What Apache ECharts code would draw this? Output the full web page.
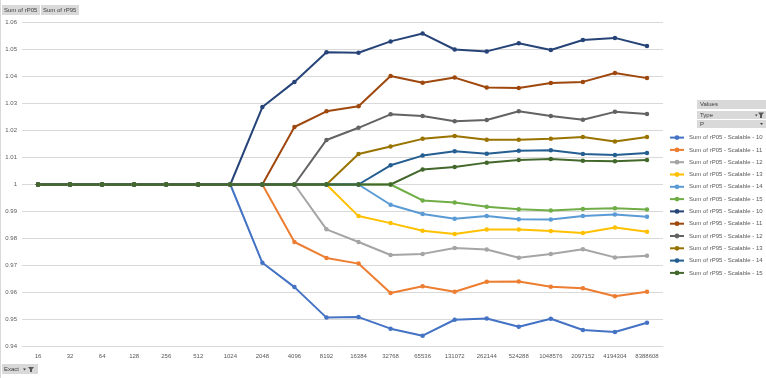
<!DOCTYPE html>
<html><head><meta charset="utf-8">
<script src="https://cdn.jsdelivr.net/npm/echarts@6/dist/echarts.min.js"></script>
<style>html,body{margin:0;padding:0;background:#fff}#c{width:766px;height:378px}</style>
</head><body><div id="c"></div>
<script>
const categories = ['16','32','64','128','256','512','1024','2048','4096','8192','16384','32768','65536','131072','262144','524288','1048576','2097152','4194304','8388608'];
const rP05_10 = [1,1,1,1,1,1,1,0.9710,0.9620,0.9507,0.9509,0.9466,0.9440,0.9499,0.9504,0.9473,0.9503,0.9461,0.9454,0.9488];
const rP05_11 = [1,1,1,1,1,1,1,1,0.9787,0.9728,0.9707,0.9598,0.9623,0.9603,0.9640,0.9641,0.9621,0.9616,0.9586,0.9603];
const rP05_12 = [1,1,1,1,1,1,1,1,1,0.9834,0.9787,0.9739,0.9743,0.9765,0.9759,0.9729,0.9743,0.9760,0.9730,0.9736];
const rP05_13 = [1,1,1,1,1,1,1,1,1,1,0.9883,0.9857,0.9829,0.9817,0.9833,0.9833,0.9828,0.9820,0.9841,0.9825];
const rP05_14 = [1,1,1,1,1,1,1,1,1,1,1,0.9925,0.9891,0.9873,0.9883,0.9871,0.9870,0.9883,0.9889,0.9881];
const rP05_15 = [1,1,1,1,1,1,1,1,1,1,1,1,0.9941,0.9933,0.9918,0.9908,0.9904,0.9909,0.9912,0.9907];
const rP95_10 = [1,1,1,1,1,1,1,1.0287,1.0380,1.0490,1.0488,1.0530,1.0559,1.0500,1.0493,1.0523,1.0498,1.0535,1.0543,1.0513];
const rP95_11 = [1,1,1,1,1,1,1,1,1.0213,1.0271,1.0290,1.0402,1.0377,1.0396,1.0359,1.0357,1.0376,1.0380,1.0413,1.0394];
const rP95_12 = [1,1,1,1,1,1,1,1,1,1.0165,1.0210,1.0260,1.0254,1.0234,1.0239,1.0271,1.0254,1.0240,1.0269,1.0261];
const rP95_13 = [1,1,1,1,1,1,1,1,1,1,1.0113,1.0141,1.0169,1.0180,1.0166,1.0166,1.0169,1.0176,1.0159,1.0176];
const rP95_14 = [1,1,1,1,1,1,1,1,1,1,1,1.0071,1.0107,1.0123,1.0114,1.0125,1.0127,1.0113,1.0109,1.0117];
const rP95_15 = [1,1,1,1,1,1,1,1,1,1,1,1,1.0056,1.0065,1.0081,1.0091,1.0094,1.0088,1.0086,1.0091];

const seriesNames = ['Sum of rP05 - Scalable - 10','Sum of rP05 - Scalable - 11','Sum of rP05 - Scalable - 12','Sum of rP05 - Scalable - 13','Sum of rP05 - Scalable - 14','Sum of rP05 - Scalable - 15','Sum of rP95 - Scalable - 10','Sum of rP95 - Scalable - 11','Sum of rP95 - Scalable - 12','Sum of rP95 - Scalable - 13','Sum of rP95 - Scalable - 14','Sum of rP95 - Scalable - 15'];
const seriesData = [rP05_10,rP05_11,rP05_12,rP05_13,rP05_14,rP05_15,rP95_10,rP95_11,rP95_12,rP95_13,rP95_14,rP95_15];
const colors = ['#4472C4','#ED7D31','#A5A5A5','#FFC000','#5B9BD5','#70AD47','#264478','#9E480E','#636363','#997300','#255E91','#43682B'];

const FONT = 'Liberation Sans';
const TXT = '#595959';

const chart = echarts.init(document.getElementById('c'));
chart.setOption({
  animation: false,
  color: colors,
  textStyle: {fontFamily: FONT},
  grid: {left: 22, right: 103, top: 22.5, bottom: 31.5, containLabel: false},
  xAxis: {
    type: 'category', data: categories, boundaryGap: true,
    axisLine: {show: true, lineStyle: {color: '#d9d9d9'}},
    axisTick: {show: false},
    axisLabel: {color: TXT, fontSize: 6, fontFamily: FONT, margin: 7, interval: 0}
  },
  yAxis: {
    type: 'value', min: 0.94, max: 1.06, interval: 0.01,
    axisLine: {show: false}, axisTick: {show: false},
    splitLine: {lineStyle: {color: '#d9d9d9', width: 1}},
    axisLabel: {color: TXT, fontSize: 6, fontFamily: FONT, margin: 5,
      formatter: v => String(parseFloat(v.toFixed(2)))}
  },
  legend: {
    orient: 'vertical', left: 669, top: 134.6, padding: 0,
    itemWidth: 14, itemHeight: 6, itemGap: 6.3,
    textStyle: {fontSize: 6, color: TXT, fontFamily: FONT},
    data: seriesNames
  },
  series: seriesNames.map((n, i) => ({
    name: n, type: 'line', data: seriesData[i],
    symbol: 'circle', symbolSize: 4.5, showSymbol: true,
    lineStyle: {width: 2}, itemStyle: {color: colors[i]}
  })),
  graphic: [
    {type: 'line', shape: {x1: 0.5, y1: 0, x2: 0.5, y2: 378}, style: {stroke: '#d9d9d9', lineWidth: 1}},
    {type: 'rect', shape: {x: 2, y: 5, width: 38, height: 10}, style: {fill: '#d9d9d9'}},
    {type: 'text', left: 4, top: 7, style: {text: 'Sum of rP05', fontSize: 6, fontFamily: FONT, fill: '#404040'}},
    {type: 'rect', shape: {x: 41, y: 5, width: 38, height: 10}, style: {fill: '#d9d9d9'}},
    {type: 'text', left: 43, top: 7, style: {text: 'Sum of rP95', fontSize: 6, fontFamily: FONT, fill: '#404040'}},
    {type: 'rect', shape: {x: 2, y: 364, width: 36, height: 10}, style: {fill: '#d9d9d9'}},
    {type: 'text', left: 4, top: 366, style: {text: 'Exact', fontSize: 6, fontFamily: FONT, fill: '#404040'}},
    {type: 'polygon', shape: {points: [[23,368.5],[26,368.5],[24.5,370.5]]}, style: {fill: '#404040'}},
    {type: 'polygon', shape: {points: [[28,367],[34,367],[32,369.5],[32,372],[30,372],[30,369.5]]}, style: {fill: '#595959'}},
    {type: 'rect', shape: {x: 697, y: 100, width: 69, height: 9}, style: {fill: '#d9d9d9'}},
    {type: 'text', left: 700, top: 101.5, style: {text: 'Values', fontSize: 6, fontFamily: FONT, fill: '#404040'}},
    {type: 'rect', shape: {x: 697, y: 111, width: 69, height: 8}, style: {fill: '#d9d9d9'}},
    {type: 'text', left: 700, top: 112, style: {text: 'Type', fontSize: 6, fontFamily: FONT, fill: '#404040'}},
    {type: 'polygon', shape: {points: [[755,114.5],[757.5,114.5],[756.25,116.5]]}, style: {fill: '#404040'}},
    {type: 'polygon', shape: {points: [[758,112.5],[764,112.5],[762,115],[762,118],[760,118],[760,115]]}, style: {fill: '#595959'}},
    {type: 'rect', shape: {x: 697, y: 120, width: 69, height: 8}, style: {fill: '#d9d9d9'}},
    {type: 'text', left: 700, top: 121, style: {text: 'P', fontSize: 6, fontFamily: FONT, fill: '#404040'}},
    {type: 'polygon', shape: {points: [[760,123],[763,123],[761.5,125]]}, style: {fill: '#404040'}}
  ]
});
</script></body></html>
